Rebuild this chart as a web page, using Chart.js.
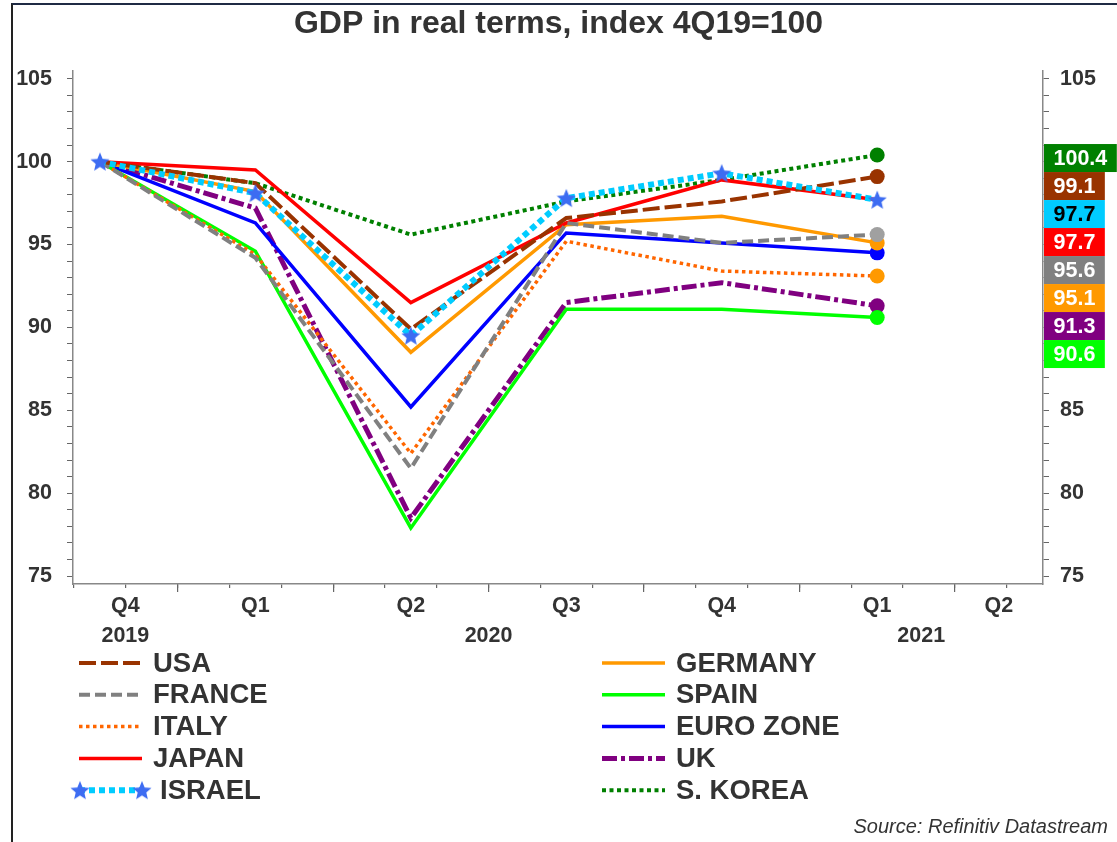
<!DOCTYPE html>
<html>
<head>
<meta charset="utf-8">
<script src="https://cdn.jsdelivr.net/npm/chart.js@4.4.1/dist/chart.umd.min.js"></script>
<style>
html, body { margin: 0; padding: 0; background: #fff; }
#wrap { position: relative; width: 1117px; height: 842px; overflow: hidden; }
#frame { position: absolute; left: 11px; top: 3px; right: -10px; bottom: -10px;
         border-left: 2px solid #222; border-top: 2px solid #1f2a44; pointer-events: none; }
</style>
</head>
<body>
<div id="wrap">
  <canvas id="chart" width="1117" height="842"></canvas>
  <div id="frame"></div>
</div>
<script>
// quarters with data, Q4 2019 .. Q1 2021
var quarters = ['Q4 2019', 'Q1 2020', 'Q2 2020', 'Q3 2020', 'Q4 2020', 'Q1 2021'];

// GDP index, 4Q19 = 100
var usa      = [100, 98.7, 89.9, 96.6, 97.6, 99.1];
var france   = [100, 94.2, 81.5, 96.3, 95.1, 95.6];
var italy    = [100, 94.4, 82.4, 95.2, 93.4, 93.1];
var japan    = [100, 99.5, 91.5, 96.3, 98.9, 97.7];
var israel   = [100, 98.1, 89.5, 97.8, 99.3, 97.7];
var germany  = [100, 98.2, 88.5, 96.2, 96.7, 95.1];
var spain    = [100, 94.6, 77.9, 91.1, 91.1, 90.6];
var euroZone = [100, 96.3, 85.2, 95.7, 95.1, 94.5];
var uk       = [100, 97.2, 78.5, 91.5, 92.7, 91.3];
var sKorea   = [100, 98.7, 95.6, 97.6, 98.9, 100.4];

// axis labels
var quarterNames = ['Q4', 'Q1', 'Q2', 'Q3', 'Q4', 'Q1', 'Q2'];
var yearNames = ['2019', '2020', '2021'];
var yearFirstQuarter = [0, 1, 5];

// series that get a value box on the right
var boxedSeries = ['S. KOREA', 'USA', 'ISRAEL', 'JAPAN', 'FRANCE', 'GERMANY', 'UK', 'SPAIN'];

var FONT = '"Liberation Sans", Arial, Helvetica, sans-serif';
Chart.defaults.font.family = FONT;

// x is in months, 0 = middle of Q4 2019
var X_MIN = -0.52, X_MAX = 18.2;
var Y_MIN = 74.52, Y_MAX = 105.47;

function makeStar(size, color) {
    var c = document.createElement('canvas');
    c.width = size; c.height = size;
    var g = c.getContext('2d');
    var cx = size / 2, cy = size / 2 + size * 0.04, R = size / 2, r = R * 0.45;
    g.beginPath();
    for (var i = 0; i < 10; i++) {
        var a = -Math.PI / 2 + i * Math.PI / 5;
        var rr = i % 2 ? r : R;
        g.lineTo(cx + rr * Math.cos(a), cy + rr * Math.sin(a));
    }
    g.closePath();
    g.fillStyle = color;
    g.fill();
    return c;
}
var star = makeStar(20, '#3d6cf2');

var series = [
    { name: 'USA',       values: usa,      color: '#993300', width: 4,   dash: [17, 5], dot: '#993300' },
    { name: 'FRANCE',    values: france,   color: '#808080', width: 4,   dash: [11, 5], dot: '#a0a0a0' },
    { name: 'ITALY',     values: italy,    color: '#ff6600', width: 3.5, dash: [3.5, 3.5], dot: '#ff9900' },
    { name: 'JAPAN',     values: japan,    color: '#ff0000', width: 3.5, dash: [], dot: null },
    { name: 'ISRAEL',    values: israel,   color: '#00ccff', width: 6,   dash: [6, 4], star: true, ink: '#000' },
    { name: 'GERMANY',   values: germany,  color: '#ff9900', width: 3.5, dash: [], dot: '#ff9900' },
    { name: 'SPAIN',     values: spain,    color: '#00ff00', width: 3.5, dash: [], dot: '#00ff00' },
    { name: 'EURO ZONE', values: euroZone, color: '#0000ff', width: 3.5, dash: [], dot: '#0000ff' },
    { name: 'UK',        values: uk,       color: '#800080', width: 5,   dash: [15, 4, 4, 4], dot: '#800080' },
    { name: 'S. KOREA',  values: sKorea,   color: '#008000', width: 4,   dash: [4, 3.5], dot: '#008000' }
];

var last = quarters.length - 1;
var datasets = series.map(function (s) {
    return {
        label: s.name,
        data: s.values.map(function (v, i) { return { x: 3 * i, y: v }; }),
        borderColor: s.color,
        borderWidth: s.width,
        borderDash: s.dash,
        tension: 0,
        order: s.star ? -1 : 0,
        pointStyle: s.star ? star : 'circle',
        pointRadius: function (c) {
            if (s.star) return 9;
            return (c.dataIndex === last && s.dot) ? 7.5 : 0;
        },
        pointBackgroundColor: s.dot || s.color,
        pointBorderWidth: 0
    };
});

// label positions: centre of each quarter / year, clipped to the axis
function clipCentre(a, b) {
    return (Math.max(a, X_MIN) + Math.min(b, X_MAX)) / 2;
}
var qTickVals = quarterNames.map(function (q, k) { return clipCentre(3 * k - 1.5, 3 * k + 1.5); });
var yTickVals = yearNames.map(function (y, j) {
    var k0 = yearFirstQuarter[j];
    var k1 = j + 1 < yearNames.length ? yearFirstQuarter[j + 1] : quarterNames.length;
    return clipCentre(3 * k0 - 1.5, 3 * k1 - 1.5);
});

var tickFont = { size: 21.5, weight: 'bold' };
var ink = '#333';

function valueTicks(scale) {
    var t = [];
    for (var v = 75; v <= 105; v++) t.push({ value: v });
    scale.ticks = t;
}
function monthTicks(major) {
    return function (scale) {
        var t = [];
        for (var m = -0.5; m <= X_MAX; m += 1) {
            var isMajor = Math.abs(((m - 1.5) % 3 + 3) % 3) < 0.01;
            if (!major || isMajor) t.push({ value: m });
        }
        scale.ticks = t;
    };
}
function fixedTicks(vals) {
    return function (scale) { scale.ticks = vals.map(function (v) { return { value: v }; }); };
}

function yAxis(pos, pad, width) {
    return {
        type: 'linear', position: pos, min: Y_MIN, max: Y_MAX,
        afterBuildTicks: valueTicks,
        afterFit: function (s) { s.width = width; },
        ticks: {
            autoSkip: false, padding: pad, color: ink, font: tickFont,
            callback: function (v) { return v % 5 === 0 ? v : ''; }
        },
        grid: { drawOnChartArea: false, tickLength: 6, color: '#666', lineWidth: 1 },
        border: { display: true, color: '#888', width: 1.5 }
    };
}
function markAxis(major, len) {
    return {
        type: 'linear', position: 'bottom', min: X_MIN, max: X_MAX, weight: 0,
        afterBuildTicks: monthTicks(major),
        afterFit: function (s) { s.height = 0; },
        ticks: { display: false },
        grid: { drawOnChartArea: false, tickLength: len, color: '#666', lineWidth: 1.2 },
        border: { display: !major, color: '#888', width: 1.5 }
    };
}
function labelAxis(vals, names, weight, height, pad) {
    return {
        type: 'linear', position: 'bottom', min: X_MIN, max: X_MAX, weight: weight,
        afterBuildTicks: fixedTicks(vals),
        afterFit: function (s) { s.height = height; },
        ticks: {
            autoSkip: false, maxRotation: 0, padding: pad, color: ink, font: tickFont,
            callback: function (v, i) { return names[i]; }
        },
        grid: { display: false },
        border: { display: false }
    };
}

var extras = {
    id: 'extras',
    afterDraw: function (chart) {
        var ctx = chart.ctx;
        var ys = chart.scales.y;
        var area = chart.chartArea;
        ctx.save();

        // value boxes on the right axis
        var items = boxedSeries.map(function (name, order) {
            var s = series.filter(function (d) { return d.name === name; })[0];
            return { s: s, v: s.values[last], order: order };
        });
        items.sort(function (a, b) { return (b.v - a.v) || (a.order - b.order); });
        ctx.font = 'bold 21.5px ' + FONT;
        ctx.textAlign = 'center';
        ctx.textBaseline = 'middle';
        var prev = -Infinity, boxH = 28;
        items.forEach(function (it) {
            var cy = Math.max(ys.getPixelForValue(it.v) + 3, prev + boxH);
            prev = cy;
            var txt = it.v.toFixed(1);
            var w = ctx.measureText(txt).width + 19;
            var x0 = area.right + 1;
            ctx.fillStyle = it.s.color;
            ctx.fillRect(x0, cy - boxH / 2, w, boxH);
            ctx.fillStyle = it.s.ink || '#fff';
            ctx.fillText(txt, x0 + w / 2, cy + 1);
        });

        // legend, two columns
        var cols = [79, 602], rowY = 663, rowH = 31.8, sampleW = 63, textOff = 74;
        ctx.font = 'bold 27.5px ' + FONT;
        ctx.textAlign = 'left';
        series.forEach(function (s, i) {
            var col = Math.floor(i / 5), row = i % 5;
            var x = cols[col], y = rowY + row * rowH;
            ctx.save();
            ctx.strokeStyle = s.color;
            ctx.lineWidth = s.width;
            ctx.setLineDash(s.dash);
            ctx.beginPath();
            ctx.moveTo(x, y);
            ctx.lineTo(x + sampleW, y);
            ctx.stroke();
            ctx.restore();
            var tx = x + textOff;
            if (s.star) {
                ctx.drawImage(star, x - star.width / 2 + 1, y - star.height / 2);
                ctx.drawImage(star, x + sampleW - star.width / 2, y - star.height / 2);
                tx += 7;
            }
            ctx.fillStyle = ink;
            ctx.fillText(s.name, tx, y + 1);
        });

        // source
        ctx.font = 'italic 20px ' + FONT;
        ctx.textAlign = 'right';
        ctx.fillStyle = ink;
        ctx.fillText('Source: Refinitiv Datastream', 1108, 827);
        ctx.restore();
    }
};

new Chart(document.getElementById('chart'), {
    type: 'line',
    data: { datasets: datasets },
    options: {
        responsive: false,
        animation: false,
        events: [],
        layout: { padding: { left: 0, right: 0, top: 0, bottom: 187 } },
        plugins: {
            legend: { display: false },
            tooltip: { enabled: false },
            title: {
                display: true,
                text: 'GDP in real terms, index 4Q19=100',
                color: ink,
                font: { size: 32, weight: 'bold' },
                padding: { top: 5, bottom: 27.6 }
            }
        },
        scales: {
            x: markAxis(false, 4),
            xm: markAxis(true, 8),
            xq: labelAxis(qTickVals, quarterNames, 1, 36, 1),
            xy: labelAxis(yTickVals, yearNames, 2, 35, -5),
            y: yAxis('left', 15, 73),
            y2: yAxis('right', 11, 74)
        }
    },
    plugins: [extras]
});
</script>
</body>
</html>
